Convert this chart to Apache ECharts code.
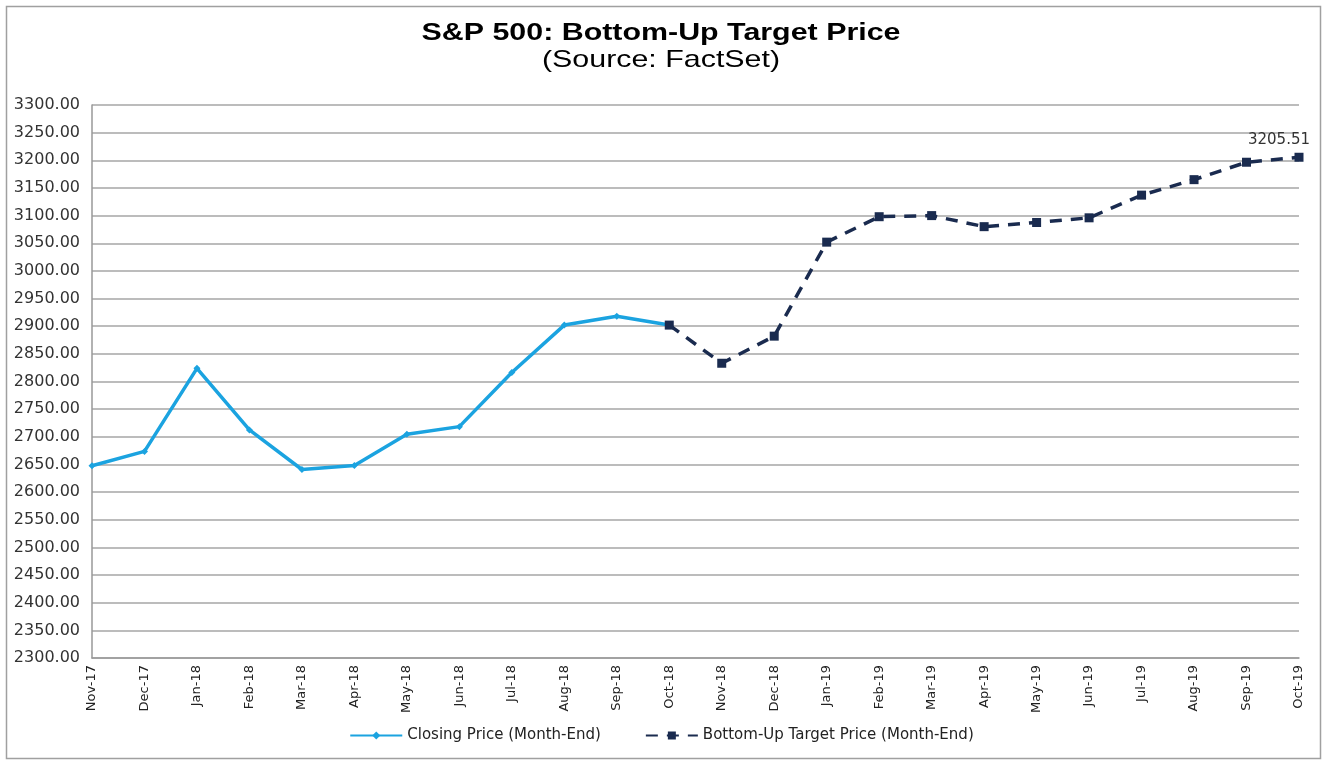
<!DOCTYPE html>
<html>
<head>
<meta charset="utf-8">
<script src="https://cdn.jsdelivr.net/npm/echarts@6/dist/echarts.min.js"></script>
<style>
html,body{margin:0;padding:0;background:#fff;}
#chart{width:1323px;height:761px;}
</style>
</head>
<body>
<div id="chart"></div>
<script>
const titleText = 'S&P 500: Bottom-Up Target Price';
const subtitleText = '(Source: FactSet)';
const categories = ['Nov-17','Dec-17','Jan-18','Feb-18','Mar-18','Apr-18','May-18','Jun-18','Jul-18','Aug-18','Sep-18','Oct-18','Nov-18','Dec-18','Jan-19','Feb-19','Mar-19','Apr-19','May-19','Jun-19','Jul-19','Aug-19','Sep-19','Oct-19'];
const closingPrice = [2647.58, 2673.61, 2823.81, 2712.5, 2640.87, 2648.05, 2704.5, 2718.37, 2816.29, 2902.0, 2918.0, 2902.0, null, null, null, null, null, null, null, null, null, null, null, null];
const targetPrice = [null, null, null, null, null, null, null, null, null, null, null, 2902.0, 2833.0, 2882.0, 3052.0, 3098.0, 3100.0, 3080.0, 3087.5, 3096.0, 3137.0, 3165.0, 3196.5, 3205.51];
const yMin = 2300, yMax = 3300, yStep = 50;

const WIDE = 'DejaVu Sans, Verdana, sans-serif';
const ARIAL = 'Liberation Sans, Arial, sans-serif';
const chart = echarts.init(document.getElementById('chart'));
chart.setOption({
  animation: false,
  backgroundColor: '#fff',
  textStyle: { fontFamily: WIDE },
  graphic: [{
    type: 'rect', left: 4, top: 4, shape: { width: 1314, height: 752 },
    style: { fill: 'none', stroke: '#a0a0a0', lineWidth: 1.5 }, silent: true
  }, {
    type: 'text', x: 661, y: 33, scaleX: 1.266, silent: true,
    style: { text: titleText, x: 0, y: 0, align: 'center', verticalAlign: 'middle',
             font: 'bold 24px ' + ARIAL, fill: '#000' }
  }, {
    type: 'text', x: 661, y: 60, scaleX: 1.266, silent: true,
    style: { text: subtitleText, x: 0, y: 0, align: 'center', verticalAlign: 'middle',
             font: '24px ' + ARIAL, fill: '#000' }
  }],
  legend: {
    bottom: 13, left: 'center', itemWidth: 52, itemHeight: 10, itemGap: 44,
    textStyle: { fontFamily: WIDE, fontSize: 15, color: '#222' },
    data: ['Closing Price (Month-End)', 'Bottom-Up Target Price (Month-End)']
  },
  grid: { left: 92, right: 24, top: 105, bottom: 103, containLabel: false },
  xAxis: {
    type: 'category', data: categories, boundaryGap: false,
    axisLine: { lineStyle: { color: '#999', width: 1.5 } },
    axisTick: { show: false },
    axisLabel: { rotate: 90, interval: 0, margin: 7, fontFamily: WIDE, fontSize: 13, color: '#222' }
  },
  yAxis: {
    type: 'value', min: yMin, max: yMax, interval: yStep,
    axisLine: { show: true, lineStyle: { color: '#999', width: 1.5 } },
    axisTick: { show: false },
    splitLine: { lineStyle: { color: '#a6a6a6', width: 1.5 } },
    axisLabel: { margin: 12, fontFamily: WIDE, fontSize: 16, color: '#333', formatter: v => v.toFixed(2) }
  },
  series: [{
    name: 'Closing Price (Month-End)', type: 'line', data: closingPrice,
    symbol: 'diamond', symbolSize: 7, showAllSymbol: true,
    lineStyle: { color: '#1ba3e0', width: 3.5 },
    itemStyle: { color: '#1ba3e0' }, z: 2
  }, {
    name: 'Bottom-Up Target Price (Month-End)', type: 'line', data: targetPrice,
    symbol: 'rect', symbolSize: 9, showAllSymbol: true,
    lineStyle: { color: '#1a2b4f', width: 3.5, type: [12, 9] },
    itemStyle: { color: '#1a2b4f' }, z: 3,
    label: {
      show: true, position: 'top', distance: 5, offset: [-20, 0], fontFamily: WIDE, fontSize: 15, color: '#333',
      formatter: p => (p.dataIndex === categories.length - 1 ? p.value.toFixed(2) : '')
    }
  }]
});
</script>
</body>
</html>
